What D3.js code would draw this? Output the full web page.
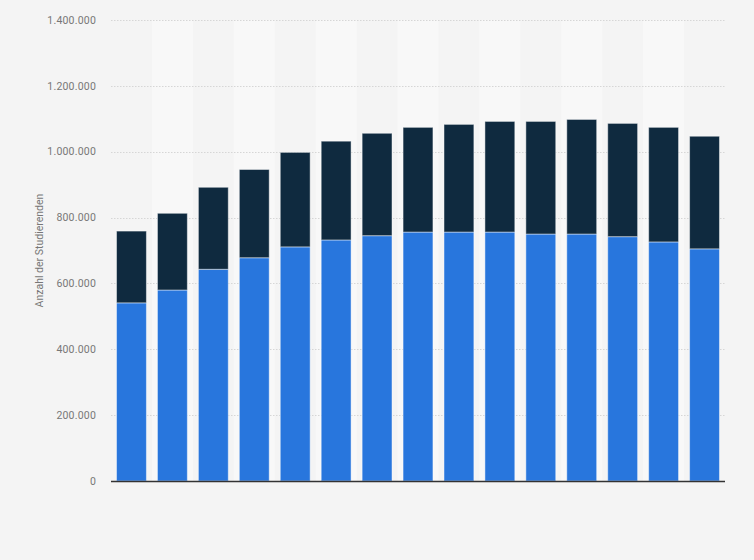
<!DOCTYPE html>
<html>
<head>
<meta charset="utf-8">
<script src="https://cdn.jsdelivr.net/npm/d3@7"></script>
<style>
  html, body { margin: 0; padding: 0; background: #f4f4f4; }
  svg { display: block; }
</style>
</head>
<body>
<svg id="chart" width="754" height="560"></svg>
<script>
const categories = ["1","2","3","4","5","6","7","8","9","10","11","12","13","14","15"];
const seriesBottom = [541000, 580000, 643000, 678000, 711000, 732000, 745000, 756000, 756000, 756000, 750000, 750000, 742000, 726000, 705000];
const seriesTotal = [759000, 813000, 892000, 946000, 998000, 1032000, 1056000, 1074000, 1083000, 1092000, 1092000, 1098000, 1086000, 1074000, 1047000];
const seriesTop = seriesTotal.map((t, i) => t - seriesBottom[i]);
const yTicks = [0, 200000, 400000, 600000, 800000, 1000000, 1200000, 1400000];
const yTitle = "Anzahl der Studierenden";

(function () {
const svg = d3.select("#chart");
const pLeft = 111, pRight = 725, pTop = 20, pBottom = 481;

const x = d3.scaleBand().domain(categories).range([pLeft, pRight]).paddingInner(0.27).paddingOuter(0.135);
const y = d3.scaleLinear().domain([0, 1400000]).range([pBottom, pTop]);
const step = x.step();
const fmt = v => d3.format(",")(v).replace(/,/g, ".");

// alternating stripes
svg.append("g").selectAll("rect").data(categories.filter((d, i) => i % 2 === 1)).join("rect")
  .attr("x", d => x(d) - x.paddingInner() * step / 2)
  .attr("y", pTop)
  .attr("width", step)
  .attr("height", pBottom - pTop)
  .attr("fill", "#f8f8f8");

// gridlines
svg.append("g").selectAll("line").data(yTicks.filter(t => t > 0)).join("line")
  .attr("x1", pLeft).attr("x2", pRight)
  .attr("y1", d => Math.round(y(d)) + 0.5).attr("y2", d => Math.round(y(d)) + 0.5)
  .attr("stroke", "#d6d6d6").attr("stroke-width", 1).attr("stroke-dasharray", "1.5,1.5");

// tick labels
svg.append("g").selectAll("text").data(yTicks).join("text")
  .attr("x", 96).attr("y", d => y(d)).attr("dy", "0.35em")
  .attr("text-anchor", "end")
  .attr("font-family", "Roboto, 'Liberation Sans', sans-serif")
  .attr("font-size", 10.5).attr("fill", "#777")
  .attr("letter-spacing", "0.2px")
  .text(d => fmt(d));

// y title
svg.append("text")
  .attr("transform", `translate(43,${(pTop + pBottom) / 2}) rotate(-90)`)
  .attr("text-anchor", "middle")
  .attr("font-family", "Roboto, 'Liberation Sans', sans-serif")
  .attr("font-size", 10.5).attr("fill", "#777")
  .text(yTitle);

// bars
const g = svg.append("g");
g.selectAll("rect.bottom").data(categories).join("rect").attr("class", "bottom")
  .attr("x", d => x(d)).attr("width", x.bandwidth())
  .attr("y", (d, i) => y(seriesBottom[i]))
  .attr("height", (d, i) => y(0) - y(seriesBottom[i]))
  .attr("fill", "#2876dd").attr("stroke", "rgba(255,255,255,0.45)").attr("stroke-width", 1);
g.selectAll("rect.top").data(categories).join("rect").attr("class", "top")
  .attr("x", d => x(d)).attr("width", x.bandwidth())
  .attr("y", (d, i) => y(seriesBottom[i] + seriesTop[i]))
  .attr("height", (d, i) => y(seriesBottom[i]) - y(seriesBottom[i] + seriesTop[i]))
  .attr("fill", "#0f2a3f").attr("stroke", "rgba(255,255,255,0.45)").attr("stroke-width", 1);

// baseline
svg.append("line")
  .attr("x1", pLeft).attr("x2", pRight)
  .attr("y1", pBottom + 0.5).attr("y2", pBottom + 0.5)
  .attr("stroke", "#333").attr("stroke-width", 1.5);
})();
</script>
</body>
</html>
